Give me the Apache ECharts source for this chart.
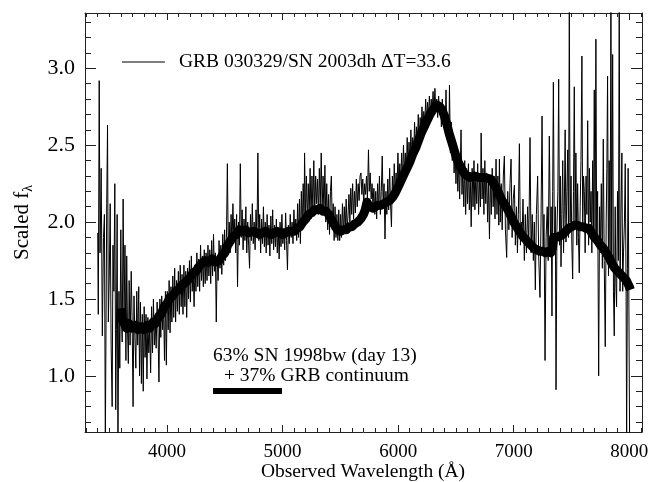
<!DOCTYPE html>
<html><head><meta charset="utf-8">
<script src="https://cdn.jsdelivr.net/npm/echarts@6/dist/echarts.min.js"></script>
<style>html,body{margin:0;padding:0;background:#fff}#c{width:662px;height:482px}</style>
</head><body><div id="c"></div>
<script>
// Tick labels
const xTickValues = [4000, 5000, 6000, 7000, 8000];
const yTickValues = [1.0, 1.5, 2.0, 2.5, 3.0];
const xTitle = 'Observed Wavelength (\u00C5)';
const seriesObsName = 'GRB 030329/SN 2003dh \u0394T=33.6';
const seriesTplName = '63% SN 1998bw (day 13) + 37% GRB continuum';
// Observed spectrum (wavelength, scaled flux)
const obsSpectrum = [
[3400,1.93],[3405,1.40],[3413,2.92],[3420,1.80],[3430,2.35],[3440,1.26],[3450,1.90],[3458,2.05],[3466,0.55],[3478,2.12],
[3485,2.63],[3492,1.35],[3500,1.65],[3508,2.12],[3516,1.20],[3525,0.80],[3532,1.85],[3540,1.55],[3548,2.25],[3556,0.78],
[3562,1.30],[3568,2.05],[3575,0.55],[3584,1.55],[3591,1.05],[3600,1.95],[3606,1.35],[3612,1.22],[3620,2.15],[3628,1.40],
[3636,1.85],[3644,1.10],[3651,1.78],[3658,1.30],[3665,1.08],[3672,1.62],[3680,1.20],[3690,1.68],[3698,1.35],[3706,0.80],
[3714,1.52],[3722,1.25],[3730,1.05],[3738,1.55],[3746,1.20],[3755,1.58],[3762,1.00],[3770,1.48],[3778,0.95],[3786,1.40],
[3794,0.90],[3802,1.45],[3810,1.12],[3818,1.40],[3826,0.98],[3834,1.38],[3842,1.15],[3850,1.30],[3858,1.02],[3866,1.45],
[3874,1.15],[3882,1.50],[3890,1.20],[3898,1.35],[3906,1.18],[3914,1.48],[3922,1.28],[3930,0.96],[3938,1.50],[3946,1.25],
[3954,1.52],[3962,1.30],[3970,1.45],[3978,1.10],[3986,1.55],[3994,1.07],[4002,1.55],[4010,1.30],[4018,1.62],[4026,1.28],
[4034,1.58],[4042,1.35],[4050,1.65],[4058,1.38],[4066,1.70],[4074,1.35],[4082,1.62],[4090,1.42],[4098,1.68],[4106,1.40],
[4114,1.72],[4122,1.45],[4130,1.66],[4138,1.40],[4146,1.72],[4154,1.45],[4162,1.68],[4170,1.38],[4178,1.70],[4186,1.50],
[4194,1.75],[4202,1.48],[4210,1.78],[4218,1.55],[4226,1.70],[4234,1.45],[4242,1.72],[4250,1.55],[4258,1.80],[4266,1.58],
[4274,1.76],[4282,1.55],[4290,1.85],[4298,1.62],[4306,1.78],[4314,1.58],[4322,1.82],[4330,1.60],[4338,1.80],[4346,1.62],
[4354,1.85],[4362,1.65],[4370,1.82],[4378,1.60],[4386,1.88],[4394,1.65],[4402,1.92],[4410,1.68],[4418,1.80],[4426,1.35],
[4434,1.78],[4442,1.62],[4450,1.88],[4458,1.70],[4466,1.85],[4474,1.66],[4482,1.92],[4490,1.72],[4498,1.95],[4506,1.75],
[4514,1.90],[4522,2.38],[4530,1.82],[4538,2.00],[4546,1.80],[4554,2.05],[4562,1.85],[4570,2.12],[4578,1.88],[4586,2.02],
[4594,1.80],[4602,2.05],[4610,1.58],[4618,2.00],[4626,1.85],[4634,2.38],[4642,1.90],[4650,2.08],[4658,1.82],[4666,2.02],
[4674,1.88],[4682,2.10],[4690,1.80],[4698,2.00],[4706,1.85],[4714,1.70],[4722,2.05],[4730,1.88],[4738,2.12],[4746,1.86],
[4754,2.00],[4762,1.82],[4770,2.08],[4778,1.90],[4786,2.45],[4794,1.88],[4802,2.05],[4810,1.80],[4818,2.02],[4826,1.86],
[4834,2.10],[4842,1.84],[4850,2.00],[4858,1.80],[4866,2.05],[4874,1.85],[4882,1.98],[4890,1.78],[4898,2.04],[4906,1.86],
[4914,2.08],[4922,1.82],[4930,1.98],[4938,1.84],[4946,2.02],[4954,1.80],[4962,1.96],[4970,1.76],[4978,2.00],[4986,1.84],
[4994,2.05],[5002,1.86],[5010,1.96],[5018,1.82],[5026,2.06],[5034,1.88],[5042,1.69],[5050,1.98],[5058,1.86],[5066,2.05],
[5074,1.90],[5082,2.00],[5090,1.86],[5098,2.08],[5106,1.92],[5114,2.02],[5122,1.88],[5130,2.12],[5138,1.90],[5146,2.15],
[5154,1.86],[5162,2.20],[5170,1.95],[5178,2.25],[5186,2.00],[5190,2.45],[5198,2.05],[5206,2.30],[5214,2.00],[5222,2.25],
[5230,2.05],[5238,2.35],[5246,2.02],[5254,2.30],[5262,2.08],[5270,2.40],[5278,2.05],[5286,2.30],[5294,2.12],[5302,2.28],
[5310,2.05],[5318,2.35],[5326,2.10],[5334,2.45],[5342,2.08],[5350,2.30],[5358,2.05],[5366,2.37],[5374,2.00],[5382,2.25],
[5390,1.95],[5398,2.18],[5406,1.92],[5414,2.20],[5422,2.30],[5430,1.95],[5438,2.12],[5446,1.88],[5454,2.10],[5462,1.90],
[5470,2.05],[5478,1.88],[5486,2.08],[5494,1.88],[5502,2.05],[5510,1.90],[5518,2.12],[5526,1.92],[5534,2.10],[5542,1.94],
[5550,2.15],[5558,1.96],[5566,2.04],[5574,2.18],[5582,2.00],[5590,2.22],[5598,2.05],[5606,2.25],[5614,2.02],[5622,2.20],
[5630,2.06],[5638,2.28],[5646,2.10],[5654,2.25],[5662,2.14],[5670,2.30],[5678,2.32],[5686,2.18],[5694,2.28],[5702,2.12],
[5710,2.25],[5718,2.18],[5726,2.30],[5734,2.15],[5743,2.47],[5750,2.20],[5758,2.32],[5766,2.15],[5774,2.25],[5782,2.10],
[5790,2.22],[5798,2.05],[5806,2.20],[5814,2.02],[5822,2.25],[5830,2.08],[5838,2.30],[5846,2.05],[5854,2.20],[5862,2.43],
[5870,2.10],[5878,2.25],[5886,1.89],[5894,2.20],[5902,2.05],[5910,2.28],[5918,2.08],[5926,2.35],[5934,2.12],[5942,1.97],
[5950,2.30],[5958,2.15],[5966,2.38],[5974,2.18],[5982,2.32],[5990,2.20],[5998,2.45],[6006,2.22],[6014,2.38],[6022,2.25],
[6030,2.45],[6038,2.28],[6046,2.50],[6054,2.32],[6062,2.45],[6070,2.30],[6078,2.55],[6086,2.35],[6094,2.52],[6102,2.38],
[6110,2.60],[6118,2.40],[6126,2.55],[6134,2.42],[6142,2.65],[6150,2.45],[6158,2.62],[6166,2.50],[6174,2.70],[6182,2.52],
[6190,2.68],[6198,2.58],[6206,2.75],[6214,2.60],[6222,2.72],[6230,2.62],[6238,2.80],[6246,2.65],[6254,2.78],[6262,2.68],
[6270,2.82],[6278,2.70],[6286,2.80],[6294,2.72],[6302,2.85],[6310,2.70],[6318,2.87],[6326,2.72],[6334,2.80],[6342,2.68],
[6350,2.82],[6358,2.70],[6366,2.78],[6374,2.62],[6382,2.80],[6390,2.65],[6398,2.75],[6406,2.60],[6414,2.86],[6422,2.58],
[6430,2.70],[6438,2.50],[6444,2.89],[6452,2.45],[6460,2.65],[6468,2.40],[6476,2.55],[6484,2.32],[6492,2.50],[6500,2.25],
[6508,2.45],[6516,2.20],[6524,2.40],[6532,2.15],[6544,2.60],[6552,2.18],[6560,2.35],[6568,2.10],[6576,2.40],[6584,2.05],
[6592,2.35],[6600,2.12],[6608,2.38],[6616,2.08],[6624,2.30],[6632,1.97],[6640,2.35],[6648,2.10],[6656,2.40],[6664,2.08],
[6672,2.32],[6680,2.12],[6688,2.38],[6696,2.05],[6704,2.30],[6712,2.10],[6718,2.58],[6726,2.15],[6734,2.35],[6742,2.05],
[6750,2.40],[6758,2.12],[6766,2.32],[6774,2.00],[6782,2.28],[6790,1.89],[6798,2.30],[6806,2.05],[6814,2.35],[6822,2.10],
[6830,2.30],[6838,2.02],[6847,2.41],[6855,2.05],[6863,2.30],[6871,1.98],[6876,2.41],[6884,2.00],[6892,2.25],[6900,1.95],
[6910,2.30],[6919,2.43],[6928,1.95],[6939,1.77],[6948,2.20],[6958,1.95],[6968,2.25],[6977,2.41],[6986,1.90],[6996,2.15],
[7006,2.24],[7014,1.85],[7024,2.10],[7032,1.80],[7040,2.05],[7049,2.51],[7058,1.85],[7066,2.00],[7072,1.89],[7080,2.15],
[7092,1.75],[7100,2.05],[7110,1.80],[7120,2.10],[7130,1.85],[7141,2.55],[7150,1.80],[7160,2.05],[7170,1.75],[7178,2.00],
[7187,1.56],[7196,2.05],[7207,2.30],[7216,1.78],[7227,1.51],[7236,2.00],[7245,2.69],[7254,1.80],[7262,2.05],[7271,1.10],
[7280,1.90],[7290,2.10],[7298,1.75],[7308,2.56],[7318,1.85],[7324,2.10],[7331,1.39],[7337,2.20],[7343,2.91],[7352,1.80],
[7360,2.10],[7366,0.91],[7374,1.95],[7382,2.20],[7389,2.93],[7397,1.85],[7403,2.30],[7409,1.71],[7416,2.05],[7424,2.40],
[7431,1.80],[7438,2.10],[7445,2.60],[7452,1.87],[7460,2.20],[7467,2.47],[7474,1.90],[7481,3.42],[7488,2.00],[7496,2.30],
[7503,1.85],[7510,1.63],[7517,2.20],[7524,2.88],[7531,2.00],[7538,2.45],[7546,1.85],[7553,2.25],[7560,1.90],[7567,1.67],
[7575,2.10],[7582,2.40],[7590,3.08],[7597,1.95],[7604,2.30],[7611,2.20],[7618,1.80],[7626,2.30],[7633,2.05],[7640,2.66],
[7648,1.85],[7655,2.35],[7662,2.00],[7669,2.20],[7676,1.80],[7683,2.40],[7690,1.95],[7697,2.86],[7704,1.90],[7711,3.19],
[7718,1.85],[7726,2.20],[7735,1.00],[7743,2.10],[7750,1.80],[7758,2.25],[7767,1.70],[7775,2.54],[7783,1.75],[7792,1.19],
[7800,2.00],[7806,2.35],[7812,2.95],[7820,1.65],[7826,2.40],[7834,1.80],[7841,3.45],[7848,1.70],[7856,3.09],[7863,1.55],
[7870,1.26],[7878,2.10],[7884,1.60],[7890,1.45],[7898,2.20],[7906,1.75],[7913,3.45],[7920,1.55],[7928,2.05],[7936,2.45],
[7943,1.55],[7950,1.80],[7958,2.00],[7965,2.38],[7972,1.60],[7977,0.60],[7984,1.70],[7990,2.35],[7996,1.55],[8003,0.55]
];
// Template: 63% SN 1998bw (day 13) + 37% GRB continuum
const snTemplate = [
[3605,1.44],[3615,1.36],[3630,1.35],[3650,1.31],[3670,1.34],[3700,1.31],[3730,1.33],[3750,1.30],[3780,1.32],[3800,1.30],
[3830,1.33],[3850,1.31],[3880,1.35],[3900,1.34],[3930,1.39],[3950,1.40],[3975,1.45],[4000,1.47],[4025,1.51],[4050,1.52],
[4075,1.55],[4100,1.56],[4125,1.59],[4150,1.60],[4175,1.62],[4200,1.64],[4225,1.67],[4250,1.68],[4275,1.71],[4300,1.73],
[4330,1.75],[4360,1.74],[4390,1.76],[4420,1.74],[4450,1.75],[4475,1.78],[4500,1.80],[4525,1.85],[4550,1.88],[4575,1.91],
[4600,1.92],[4625,1.95],[4650,1.94],[4680,1.95],[4700,1.93],[4750,1.94],[4800,1.92],[4850,1.94],[4900,1.92],[4950,1.94],
[5000,1.92],[5050,1.94],[5100,1.94],[5125,1.96],[5150,1.97],[5175,2.00],[5200,2.02],[5225,2.05],[5250,2.06],[5275,2.08],
[5300,2.08],[5325,2.09],[5350,2.07],[5375,2.07],[5400,2.05],[5425,2.01],[5450,1.98],[5475,1.95],[5500,1.94],[5525,1.95],
[5550,1.95],[5575,1.97],[5600,1.97],[5625,1.99],[5650,2.00],[5675,2.02],[5700,2.05],[5715,2.08],[5730,2.13],[5745,2.11],
[5760,2.10],[5780,2.09],[5800,2.10],[5825,2.11],[5850,2.11],[5875,2.12],[5900,2.13],[5925,2.14],[5950,2.16],[5975,2.19],
[6000,2.23],[6025,2.27],[6050,2.31],[6075,2.35],[6100,2.39],[6125,2.44],[6150,2.48],[6175,2.53],[6200,2.58],[6225,2.62],
[6250,2.66],[6275,2.70],[6300,2.73],[6320,2.75],[6340,2.76],[6360,2.75],[6380,2.73],[6400,2.69],[6420,2.64],[6440,2.58],
[6460,2.53],[6480,2.48],[6500,2.43],[6520,2.39],[6540,2.36],[6560,2.33],[6580,2.31],[6600,2.30],[6620,2.29],[6660,2.30],
[6700,2.29],[6750,2.29],[6800,2.28],[6825,2.25],[6850,2.22],[6875,2.18],[6900,2.14],[6925,2.11],[6950,2.08],[6975,2.04],
[7000,2.00],[7025,1.97],[7050,1.94],[7075,1.91],[7100,1.89],[7125,1.87],[7150,1.85],[7175,1.83],[7200,1.82],[7225,1.81],
[7250,1.81],[7275,1.80],[7300,1.81],[7320,1.80],[7335,1.83],[7345,1.90],[7370,1.90],[7400,1.91],[7425,1.92],[7450,1.94],
[7475,1.96],[7500,1.97],[7525,1.98],[7550,1.98],[7575,1.97],[7600,1.97],[7625,1.96],[7650,1.96],[7675,1.93],[7700,1.90],
[7725,1.88],[7750,1.85],[7775,1.83],[7800,1.80],[7825,1.77],[7850,1.73],[7875,1.70],[7900,1.68],[7925,1.66],[7950,1.64],
[7975,1.62],[8000,1.58],[8010,1.56]
];

const X_MIN = 3290, X_MAX = 8110, Y_MIN = 0.635, Y_MAX = 3.36;
const xMinor = [], yMinor = [];
for (let v = 3300; v <= 8100; v += 100) xMinor.push(v);
for (let i = 7; i <= 33; i++) yMinor.push(i / 10);

const FONT = '"Liberation Serif", "Times New Roman", serif';
const AX = '#222';

function xAx(pos, ticks, len, showLine, showLabel, extra) {
  return Object.assign({
    type: 'value', min: X_MIN, max: X_MAX, position: pos,
    axisLine: { show: showLine, onZero: false, lineStyle: { color: AX, width: 1 } },
    axisTick: { show: true, inside: true, length: len, customValues: ticks, lineStyle: { color: AX, width: 1 } },
    axisLabel: showLabel ? { show: true, customValues: ticks, margin: 11, fontFamily: FONT, fontSize: 19, color: '#000',
      formatter: v => String(Math.round(v)) } : { show: false },
    splitLine: { show: false }
  }, extra || {});
}
function yAx(pos, ticks, len, showLine, showLabel, extra) {
  return Object.assign({
    type: 'value', min: Y_MIN, max: Y_MAX, position: pos,
    axisLine: { show: showLine, onZero: false, lineStyle: { color: AX, width: 1 } },
    axisTick: { show: true, inside: true, length: len, customValues: ticks, lineStyle: { color: AX, width: 1 } },
    axisLabel: showLabel ? { show: true, customValues: ticks, margin: 10, fontFamily: FONT, fontSize: 22, color: '#000',
      formatter: v => v.toFixed(1) } : { show: false },
    splitLine: { show: false }
  }, extra || {});
}

const chart = echarts.init(document.getElementById('c'), null, { renderer: 'canvas' });
chart.setOption({
  animation: false,
  backgroundColor: '#fff',
  grid: { left: 85, right: 20, top: 13, bottom: 50, containLabel: false, outerBoundsMode: 'none' },
  xAxis: [
    xAx('bottom', xTickValues, 7, true, true),
    xAx('bottom', xMinor, 4, false, false),
    xAx('top', xTickValues, 7, true, false),
    xAx('top', xMinor, 4, false, false)
  ],
  yAxis: [
    yAx('left', yTickValues, 11, true, true, {
      name: '{a|Scaled f}{s|\u03BB}', nameLocation: 'middle', nameGap: 50, nameRotate: 90,
      nameTextStyle: { fontFamily: FONT, fontSize: 21, color: '#000',
        rich: { a: { fontFamily: FONT, fontSize: 21, color: '#000', lineHeight: 26, verticalAlign: 'middle' },
                s: { fontFamily: FONT, fontSize: 14, color: '#000', lineHeight: 26, verticalAlign: 'bottom' } } } }),
    yAx('left', yMinor, 6, false, false),
    yAx('right', yTickValues, 11, true, false),
    yAx('right', yMinor, 6, false, false)
  ],
  legend: {
    data: [seriesObsName], left: 122, top: 52, padding: 0, icon: 'rect', itemWidth: 43, itemHeight: 1.2,
    formatter: n => '{t|' + n + '}',
    textStyle: { fontFamily: FONT, fontSize: 19.5, color: '#000',
      rich: { t: { fontFamily: FONT, fontSize: 19.5, color: '#000', padding: [0, 0, 0, 9] } } },
    selectedMode: false
  },
  graphic: [
    { type: 'text', x: 363, y: 472, style: { text: xTitle, font: '19.5px ' + FONT, fill: '#000',
        align: 'center', verticalAlign: 'middle', textAlign: 'center', textVerticalAlign: 'middle' } },
    { type: 'text', left: 213, top: 346, style: { text: '63% SN 1998bw (day 13)', font: '19.5px ' + FONT, fill: '#000' } },
    { type: 'text', left: 224, top: 366, style: { text: '+ 37% GRB continuum', font: '19.5px ' + FONT, fill: '#000' } },
    { type: 'rect', left: 213, top: 388, shape: { width: 69, height: 6 }, style: { fill: '#000' } }
  ],
  series: [
    { name: seriesObsName, type: 'line', data: obsSpectrum, showSymbol: false, symbol: 'none', clip: true,
      lineStyle: { color: '#000', width: 1 }, itemStyle: { color: '#000' } },
    { name: seriesTplName, type: 'line', data: snTemplate, showSymbol: false, symbol: 'none', clip: true,
      lineStyle: { color: '#000', width: 9, join: 'round', cap: 'butt' }, itemStyle: { color: '#000' } }
  ]
});
</script></body></html>
